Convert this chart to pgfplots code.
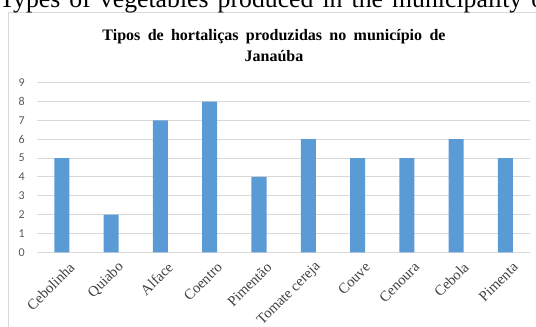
\documentclass[border=0pt]{standalone}
\usepackage{pgfplots}
\pgfplotsset{compat=1.18}
\usepackage{fontspec}
\setmainfont{Liberation Serif}
\newfontfamily\calib{Carlito}
\definecolor{barblue}{HTML}{5B9BD5}
\definecolor{gridgray}{HTML}{D9D9D9}
\definecolor{ticktext}{HTML}{595959}
\definecolor{labtext}{HTML}{404040}
\begin{document}
\begin{tikzpicture}[x=0.75pt,y=0.75pt]
\path[use as bounding box] (0,0) rectangle (536,326);
\clip (0,0) rectangle (536,326);
\draw[gridgray, line width=0.75pt] (8.3,-5) -- (8.3,313.3) -- (545,313.3);
\node[anchor=base west, inner sep=0, font=\fontsize{19.3}{22}\selectfont] at (-1,318.7)
  {Types\hspace{2pt} of\hspace{2pt} vegetables\hspace{2pt} produced\hspace{2pt} in\hspace{2pt} the\hspace{2pt} municipality\hspace{2pt} of Janaúba};
\node[anchor=base, inner sep=0, font=\bfseries\fontsize{12}{14}\selectfont] at (274,286)
  {Tipos\hspace{2.5pt} de\hspace{2.5pt} hortaliças\hspace{2.5pt} produzidas\hspace{2.5pt} no\hspace{2.5pt} município\hspace{2.5pt} de};
\node[anchor=base, inner sep=0, font=\bfseries\fontsize{12}{14}\selectfont] at (274,265) {Janaúba};
\begin{axis}[
  at={(27.98pt,55.28pt)}, anchor=south west,
  scale only axis, width=369.5pt, height=127.2pt,
  xmin=-0.5, xmax=9.5, ymin=0, ymax=9,
  ytick={0,1,...,9}, xtick={0,1,...,9},
  xticklabels={Cebolinha,Quiabo,Alface,Coentro,Pimentão,Tomate cereja,Couve,Cenoura,Cebola,Pimenta},
  ymajorgrids, grid style={gridgray, line width=0.75pt},
  axis x line*=bottom, axis y line*=left,
  y axis line style={draw=none},
  x axis line style={gridgray, line width=0.75pt},
  major tick length=0pt, tick style={draw=none},
  /pgf/number format/assume math mode=true,
  yticklabel style={font=\calib\fontsize{9}{10}\selectfont, text=ticktext, xshift=-6pt},
  xticklabel style={font=\fontsize{11}{12}\selectfont, text=labtext, anchor=east, yshift=-7pt, xshift=10pt, rotate=45},
]
\addplot[ybar, fill=barblue, draw=none, bar width=0.305] coordinates {
  (0,5) (1,2) (2,7) (3,8) (4,4) (5,6) (6,5) (7,5) (8,6) (9,5)
};
\end{axis}
\end{tikzpicture}
\end{document}
